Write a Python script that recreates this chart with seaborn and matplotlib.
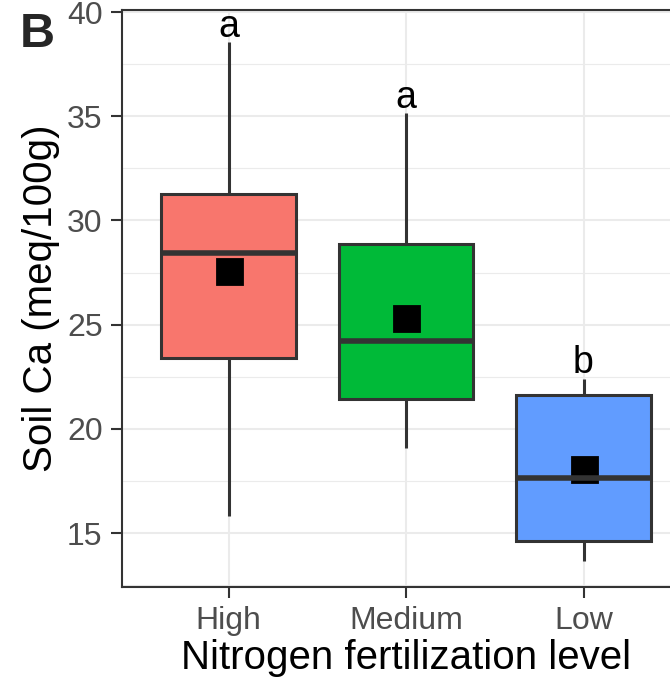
import numpy as np
import pandas as pd
import matplotlib
matplotlib.use('Agg')
import matplotlib.pyplot as plt
from matplotlib.ticker import MultipleLocator
import seaborn as sns

# ── Data ─────────────────────────────────────────────────────────────────────
levels   = ['High', 'Medium', 'Low']
ca_min   = [15.8, 19.1, 13.65]
ca_q1    = [23.4, 21.43, 14.62]
ca_med   = [28.45, 24.22, 17.64]
ca_q3    = [31.27, 28.87, 21.62]
ca_max   = [38.55, 35.15, 22.4]
ca_mean  = [27.57, 25.33, 18.08]
letters  = ['a', 'a', 'b']
letter_y = [38.8, 35.4, 22.7]
colors   = ['#F8766D', '#00BA38', '#619CFF']

# five-number summaries as rows so seaborn draws the boxes itself
rows = []
for lv, a, b, c, d, e in zip(levels, ca_min, ca_q1, ca_med, ca_q3, ca_max):
    for v in (a, b, c, d, e):
        rows.append({'level': lv, 'ca': v})
df = pd.DataFrame(rows)

# ── Style ────────────────────────────────────────────────────────────────────
sns.set_theme(style='whitegrid')
plt.rcParams['font.family'] = ['Liberation Sans', 'DejaVu Sans']
EDGE = '#333333'
GRID = '#EBEBEB'
TICK = '#4D4D4D'

fig = plt.figure(figsize=(6.7, 6.86), dpi=100)
ax = fig.add_axes([122 / 670, 99 / 686, 568 / 670, 577 / 686])
ax.set_facecolor('white')

sns.boxplot(data=df, x='level', y='ca', hue='level', order=levels,
            hue_order=levels, palette=colors, saturation=1, width=0.76,
            whis=(0, 100), showcaps=False, linecolor=EDGE, linewidth=2.2,
            legend=False, ax=ax,
            medianprops={'linewidth': 4.0, 'color': EDGE})
sns.pointplot(x=levels, y=ca_mean, order=levels, color='black', marker='s',
              markersize=18, linestyle='none', errorbar=None, ax=ax)
for coll in ax.collections:
    coll.set_zorder(5)

for i, (lt, ly) in enumerate(zip(letters, letter_y)):
    ax.text(i, ly, lt, ha='center', va='baseline', fontsize=27, color='black')

# ── Axes ─────────────────────────────────────────────────────────────────────
ax.set_xlim(-0.6, 2.6)
ax.set_ylim(12.41, 40.1)
ax.yaxis.set_major_locator(MultipleLocator(5))
ax.yaxis.set_minor_locator(MultipleLocator(2.5))
ax.grid(which='major', color=GRID, linewidth=1.5)
ax.grid(which='minor', axis='y', color=GRID, linewidth=0.8)
ax.grid(which='major', axis='x', color=GRID, linewidth=1.5)
ax.set_axisbelow(True)
for s in ax.spines.values():
    s.set_color(EDGE)
    s.set_linewidth(1.5)
    s.set_visible(True)
ax.tick_params(axis='both', which='major', length=8, width=1.5, color=EDGE,
               labelsize=23, labelcolor=TICK, pad=6, left=True, bottom=True)
ax.tick_params(axis='y', which='minor', length=0)
ax.set_xlabel('Nitrogen fertilization level', fontsize=29, color='black', labelpad=2)
ax.set_ylabel('Soil Ca (meq/100g)', fontsize=29, color='black', labelpad=5)

fig.text(20 / 670, 1 - 47 / 686, 'B', fontsize=35, fontweight='bold',
         ha='left', va='baseline')

fig.savefig('out.png', dpi=100, facecolor='white')
